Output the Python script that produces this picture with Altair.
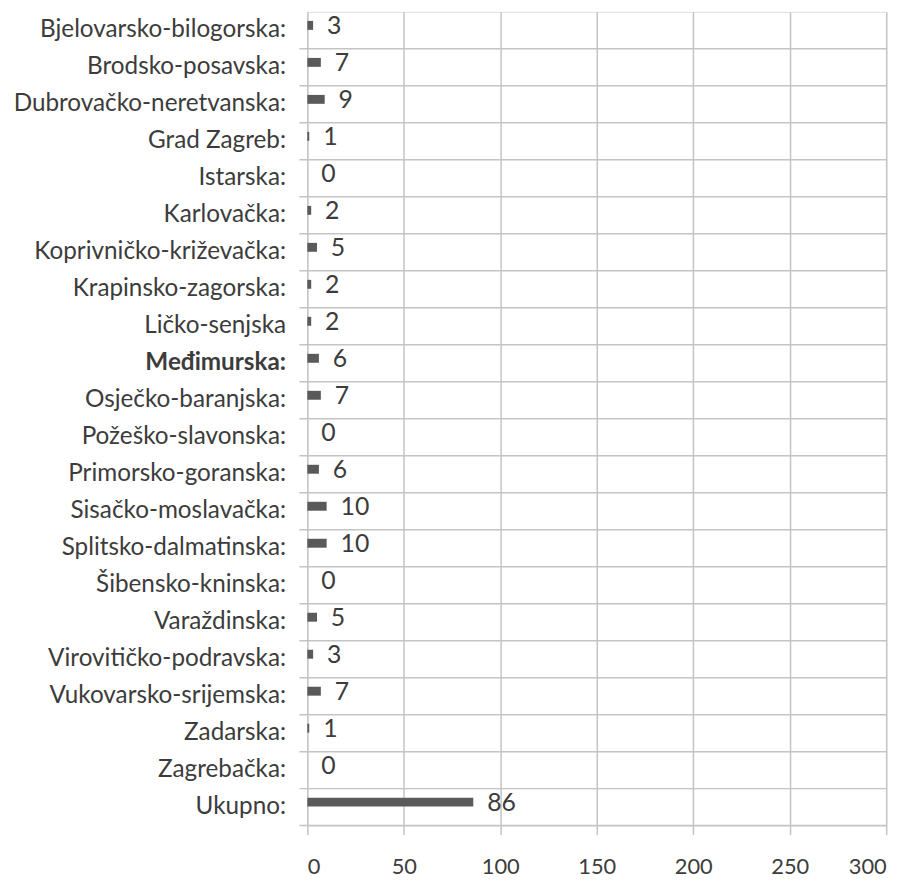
import altair as alt
import pandas as pd

counties = [
    "Bjelovarsko-bilogorska:", "Brodsko-posavska:", "Dubrovačko-neretvanska:",
    "Grad Zagreb:", "Istarska:", "Karlovačka:", "Koprivničko-križevačka:",
    "Krapinsko-zagorska:", "Ličko-senjska", "Međimurska:", "Osječko-baranjska:",
    "Požeško-slavonska:", "Primorsko-goranska:", "Sisačko-moslavačka:",
    "Splitsko-dalmatinska:", "Šibensko-kninska:", "Varaždinska:",
    "Virovitičko-podravska:", "Vukovarsko-srijemska:", "Zadarska:",
    "Zagrebačka:", "Ukupno:",
]
values = [3, 7, 9, 1, 0, 2, 5, 2, 2, 6, 7, 0, 6, 10, 10, 0, 5, 3, 7, 1, 0, 86]
x_ticks = [0, 50, 100, 150, 200, 250, 300]

df = pd.DataFrame({"county": counties, "value": values})

W = 584
STEP = 37.33
H = round(STEP * len(counties))
FONT = "Lato"
GRID = "#c4c4c4"
TXT = "#3c3c3c"

y_enc = alt.Y(
    "county:N",
    sort=counties,
    title=None,
    scale=alt.Scale(paddingInner=0, paddingOuter=0),
    axis=alt.Axis(
        ticks=False, domain=False, grid=False,
        labelFont=FONT, labelFontSize=24.5, labelColor=TXT,
        labelPadding=22, labelLimit=400,
        labelFontWeight=alt.expr("datum.value == 'Međimurska:' ? 'bold' : 'normal'"),
    ),
)

base = alt.Chart(df)

rules = base.mark_rule(color=GRID, strokeWidth=1.5, yOffset=STEP / 2).encode(
    y=y_enc,
    x=alt.value(-8),
    x2=alt.value(W),
)

bars = base.mark_bar(color="#5a5a5a", size=9, yOffset=-5).encode(
    y=y_enc,
    x=alt.X(
        "value:Q",
        title=None,
        scale=alt.Scale(domain=[0, 300], nice=False),
        axis=alt.Axis(
            values=x_ticks, grid=True, gridColor=GRID, gridWidth=1.5,
            domain=False, ticks=True, tickColor=GRID, tickWidth=1.5, tickSize=9,
            labelFont=FONT, labelFontSize=22, labelColor=TXT,
            labelPadding=22,
        ),
    ),
)

labels = base.mark_text(
    align="left", baseline="middle", dx=14, yOffset=-4,
    font=FONT, fontSize=25, color=TXT,
).encode(
    y=y_enc,
    x="value:Q",
    text="value:Q",
)

chart = (
    alt.layer(rules, bars, labels)
    .properties(
        width=W, height=H,
        autosize=alt.AutoSizeParams(type="none"),
        padding={"left": 302, "top": 0, "right": 22, "bottom": 52},
    )
    .configure_view(stroke=None)
    .configure(background="white")
)

chart.save("out.html", embed_options={"renderer": "svg", "actions": False})
